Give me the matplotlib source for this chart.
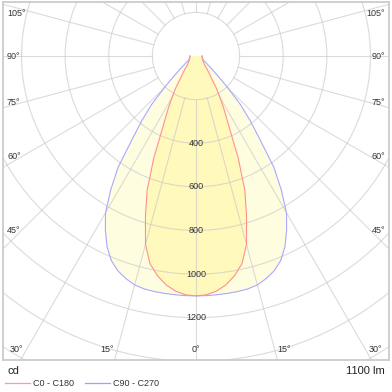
import numpy as np
import matplotlib
matplotlib.use("Agg")
import matplotlib.pyplot as plt
from matplotlib.patches import Circle
from matplotlib.lines import Line2D

plt.rcParams['font.family'] = ['Liberation Sans', 'DejaVu Sans']

# luminous intensity (cd) vs angle from nadir, symmetric curves
angles = [0, 2.5, 5, 7.5, 10, 12.5, 15, 17.5, 20, 22.5, 25, 27.5, 30, 32.5, 35,
          37.5, 40, 42.5, 45, 47.5, 50, 55, 60, 65, 70, 75, 80, 85, 90]
c0_c180 = [1100, 1096, 1082, 1058, 1022, 975, 895, 771, 655, 505, 360, 283, 222,
           172, 120, 98, 80, 64, 54, 49, 45, 40, 36, 33, 31, 30, 29, 28, 27]
c90_c270 = [1100, 1100, 1099, 1098, 1097, 1094, 1087, 1070, 1048, 1015, 965, 900,
            830, 728, 622, 480, 385, 300, 205, 140, 100, 60, 40, 35, 32, 30, 29, 28, 27]

ring_values = [200, 400, 600, 800, 1000, 1200, 1400, 1600]
ring_labels = [400, 600, 800, 1000, 1200]
angle_labels_side = [45, 60, 75, 90, 105]
angle_labels_bottom = [0, 15, 30]
flux_text = "1100 lm"

W = 392
fig = plt.figure(figsize=(3.92, 3.92), dpi=100)
# plot box in pixels: x 3..389, y 2..360 (from top)
ax = fig.add_axes([3 / W, 32 / W, 386 / W, 358 / W])
scale = 386 / 1770.0  # px per cd
ax.set_xlim(-885, 885)
ax.set_ylim(-304 / scale, 54 / scale)
ax.set_aspect('equal')
ax.set_xticks([])
ax.set_yticks([])
for s in ax.spines.values():
    s.set_color('#cccccc')
    s.set_linewidth(1.3)


def curve_xy(vals):
    a = np.radians(np.array(angles))
    v = np.array(vals, dtype=float)
    full_a = np.concatenate([-a[::-1], a[1:]])
    full_v = np.concatenate([v[::-1], v[1:]])
    return full_v * np.sin(full_a), -full_v * np.cos(full_a)


bx, by = curve_xy(c90_c270)
rx, ry = curve_xy(c0_c180)
ax.fill(bx, by, color='#fffde0', zorder=1, lw=0)
ax.fill(rx, ry, color='#fff9bc', zorder=1.1, lw=0)

# grid
gcol = '#c8c8c8'
for r in ring_values:
    ax.add_patch(Circle((0, 0), r, fill=False, ec=gcol, lw=0.8, alpha=0.65, zorder=2))
for a in range(0, 360, 15):
    t = np.radians(a)
    ax.plot([200 * np.sin(t), 4000 * np.sin(t)], [-200 * np.cos(t), -4000 * np.cos(t)],
            color=gcol, lw=0.8, alpha=0.65, zorder=2)

ax.plot(bx, by, color='#a8a8ff', lw=0.8, zorder=3)
ax.plot(rx, ry, color='#ff9090', lw=0.8, zorder=3.1)

tcol = '#333333'
for r in ring_labels:
    ax.text(0, -r, str(r), ha='center', va='center', fontsize=6.5, color=tcol, zorder=4)

x0, x1 = ax.get_xlim()
y0, y1 = ax.get_ylim()
xin = 174 / scale
for a in angle_labels_side:
    t = np.radians(a)
    y = -xin / np.tan(t) if a != 90 else 0
    y = min(y, y1 - 11 / scale)
    ax.text(x0 + 4 / scale, y, f"{a}°", ha='left', va='center', fontsize=6.5, color=tcol)
    ax.text(x1 - 4 / scale, y, f"{a}°", ha='right', va='center', fontsize=6.5, color=tcol)
yb = y0 + 10 / scale
for a in angle_labels_bottom:
    t = np.radians(a)
    xr = -yb * np.tan(t)
    if a == 0:
        ax.text(0, yb, "0°", ha='center', va='center', fontsize=6.5, color=tcol)
    else:
        ax.text(-xr - 3 / scale, yb, f"{a}°", ha='right', va='center', fontsize=6.5, color=tcol)
        ax.text(xr + 3 / scale, yb, f"{a}°", ha='left', va='center', fontsize=6.5, color=tcol)

# footer
fig.text(8 / W, 1 - 371 / W, "cd", ha='left', va='center', fontsize=8, color='#222222')
fig.text(385 / W, 1 - 371 / W, flux_text, ha='right', va='center', fontsize=8, color='#222222')
ly = 1 - 383 / W
fig.add_artist(Line2D([5 / W, 30 / W], [ly, ly], color='#ff9a9a', lw=0.9))
fig.text(33 / W, ly, "C0 - C180", ha='left', va='center', fontsize=6.5, color='#333333')
fig.add_artist(Line2D([85 / W, 110 / W], [ly, ly], color='#a0a0ff', lw=0.9))
fig.text(113 / W, ly, "C90 - C270", ha='left', va='center', fontsize=6.5, color='#333333')

fig.savefig("out.png", dpi=100)
